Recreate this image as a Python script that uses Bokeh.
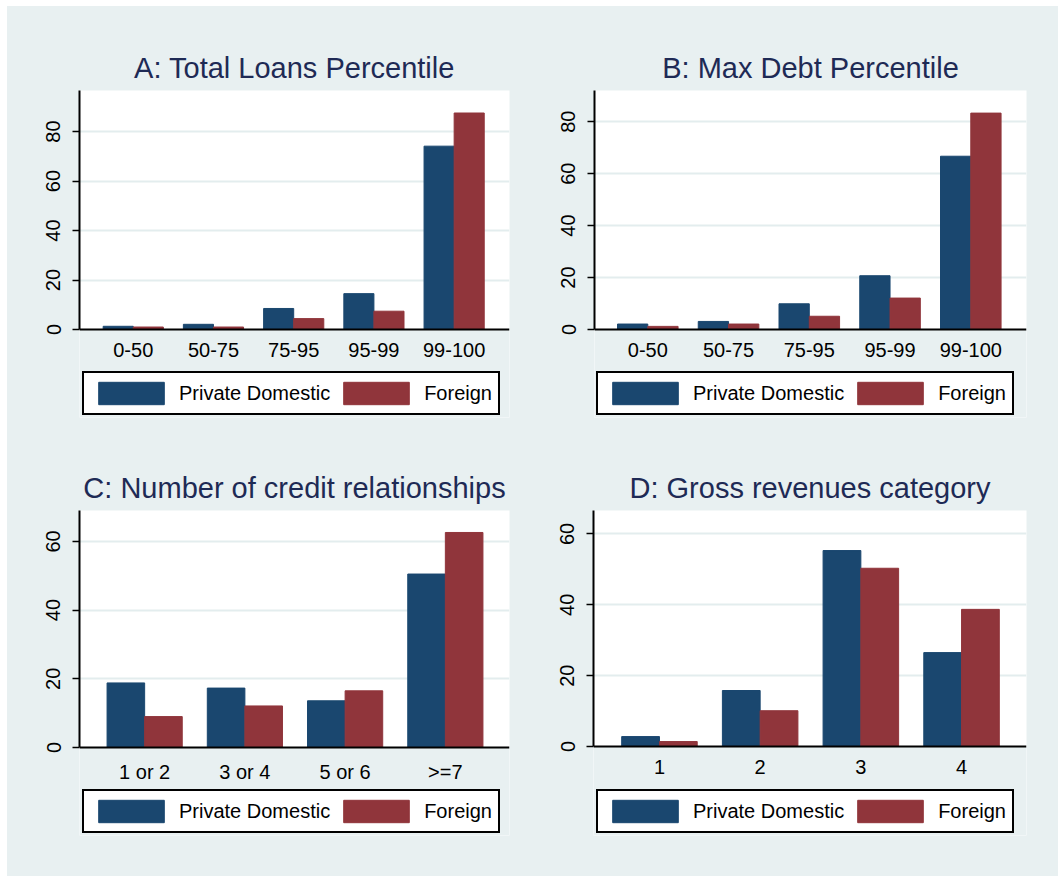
from bokeh.plotting import figure
from bokeh.models import (Range1d, FixedTicker, Legend, LegendItem, ColumnDataSource,
                          BoxAnnotation)
from bokeh.layouts import column, row
from bokeh.embed import file_html
from bokeh.resources import INLINE

# ---------------- data ----------------
series_names = ["Private Domestic", "Foreign"]

cats_a = ["0-50", "50-75", "75-95", "95-99", "99-100"]
priv_a = [1.3, 2.1, 8.5, 14.5, 74.1]
forn_a = [1.0, 1.0, 4.4, 7.4, 87.5]

cats_b = ["0-50", "50-75", "75-95", "95-99", "99-100"]
priv_b = [2.1, 3.1, 9.9, 20.7, 66.7]
forn_b = [1.2, 2.1, 5.1, 12.1, 83.3]

cats_c = ["1 or 2", "3 or 4", "5 or 6", ">=7"]
priv_c = [18.8, 17.3, 13.6, 50.5]
forn_c = [9.0, 12.1, 16.5, 62.6]

cats_d = ["1", "2", "3", "4"]
priv_d = [2.8, 15.8, 55.3, 26.5]
forn_d = [1.4, 10.1, 50.3, 38.7]

titles = ["A: Total Loans Percentile", "B: Max Debt Percentile",
          "C: Number of credit relationships", "D: Gross revenues category"]
yticks_ab = [0, 20, 40, 60, 80]
yticks_cd = [0, 20, 40, 60]

# ---------------- style ----------------
BG = "#E8F0F1"
GRID = "#E3EDEE"
NAVY = "#1A476F"
MAROON = "#90353B"
TITLE_COL = "#1E2A55"
FONT = "Liberation Sans"


def make_panel(title, cats, priv, forn, y_end, yticks, x_lo, x_hi,
               fig_w, fig_h, left, fw, top, zero_px, leg_bottom_px, leg_dx):
    n = len(cats)
    xs = list(range(n))
    frame_bottom = leg_bottom_px + 2
    fh = frame_bottom - top
    above = zero_px - top
    below = frame_bottom - zero_px
    y_lo = -y_end * below / above
    p = figure(frame_width=fw, frame_height=fh, output_backend="svg", toolbar_location=None,
               x_range=Range1d(x_lo, n - 1 + x_hi), y_range=Range1d(y_lo, y_end),
               min_border_left=left, min_border_right=fig_w - left - fw,
               min_border_top=top, min_border_bottom=fig_h - frame_bottom)
    p.background_fill_color = "white"
    p.border_fill_color = BG
    p.outline_line_color = None

    # area below the zero line takes the outer colour
    p.add_layout(BoxAnnotation(top=0, fill_color=BG, fill_alpha=1, line_color=None,
                               level="underlay"))

    w = 0.375
    src = ColumnDataSource(dict(x=xs, priv=priv, forn=forn,
                                xp=[x - w / 2 for x in xs], xf=[x + w / 2 for x in xs]))
    r1 = p.vbar(x="xp", top="priv", width=w, bottom=0, source=src,
                fill_color=NAVY, line_color=NAVY, line_width=1)
    r2 = p.vbar(x="xf", top="forn", width=w, bottom=0, source=src,
                fill_color=MAROON, line_color=MAROON, line_width=1)

    # title
    p.title.text = title
    p.title.align = "center"
    p.title.text_font = FONT
    p.title.text_font_size = "29px"
    p.title.text_font_style = "normal"
    p.title.text_color = TITLE_COL
    p.title.standoff = 13

    # x axis at y = 0
    xa = p.xaxis[0]
    xa.fixed_location = 0
    xa.ticker = FixedTicker(ticks=xs)
    xa.major_label_overrides = {i: c for i, c in enumerate(cats)}
    xa.major_tick_out = 0
    xa.major_tick_in = 0
    xa.minor_tick_out = 0
    xa.minor_tick_in = 0
    xa.axis_line_color = "black"
    xa.axis_line_width = 2
    xa.major_label_text_font = FONT
    xa.major_label_text_font_size = "20px"
    xa.major_label_text_color = "black"
    xa.major_label_standoff = 13

    # y axis
    ya = p.yaxis[0]
    ya.bounds = (0, y_end)
    ya.ticker = FixedTicker(ticks=yticks)
    ya.major_tick_out = 7
    ya.major_tick_in = 0
    ya.minor_tick_out = 0
    ya.minor_tick_in = 0
    ya.major_tick_line_color = "black"
    ya.major_tick_line_width = 1.5
    ya.axis_line_color = "black"
    ya.axis_line_width = 2
    ya.major_label_orientation = "vertical"
    ya.major_label_text_font = FONT
    ya.major_label_text_font_size = "20px"
    ya.major_label_text_color = "black"
    ya.major_label_standoff = 12

    # grid
    p.xgrid.grid_line_color = None
    p.ygrid.ticker = FixedTicker(ticks=[t for t in yticks if t > 0])
    p.ygrid.grid_line_color = GRID
    p.ygrid.grid_line_width = 2

    legend = Legend(items=[LegendItem(label=series_names[0], renderers=[r1]),
                           LegendItem(label=series_names[1], renderers=[r2])],
                    orientation="horizontal", location=(leg_dx, 2))
    legend.label_text_font = FONT
    legend.label_text_font_size = "20px"
    legend.label_text_color = "black"
    legend.glyph_width = 82
    legend.glyph_height = 28
    legend.label_height = 28
    legend.label_standoff = 7
    legend.spacing = 5
    legend.padding = 6
    legend.margin = 0
    legend.border_line_color = "black"
    legend.border_line_alpha = 1
    legend.border_line_width = 2
    legend.background_fill_color = "white"
    legend.background_fill_alpha = 1
    p.add_layout(legend, "center")
    return p


pa = make_panel(titles[0], cats_a, priv_a, forn_a, 96.6, yticks_ab, -0.67, 0.69,
                525, 435, 72, 430, 84, 323, 409, 3)
pb = make_panel(titles[1], cats_b, priv_b, forn_b, 92.0, yticks_ab, -0.66, 0.69,
                526, 435, 62, 432, 84, 323, 409, 2)
pc = make_panel(titles[2], cats_c, priv_c, forn_c, 69.0, yticks_cd, -0.65, 0.64,
                525, 435, 72, 430, 69, 306, 392, 3)
pd_ = make_panel(titles[3], cats_d, priv_d, forn_d, 66.6, yticks_cd, -0.655, 0.645,
                 526, 435, 61, 433, 69, 305, 392, 3)

bg_style = {"background-color": BG}
layout = column(row(pa, pb, spacing=0, styles=bg_style),
                row(pc, pd_, spacing=0, styles=bg_style),
                spacing=0, margin=(6, 0, 0, 7), styles=bg_style)

# page colour: white strip at top and left, chart colour everywhere else
page_css = ("<style>html{background-color:" + BG + ";background-image:"
            "linear-gradient(to right, #ffffff 7px, rgba(0,0,0,0) 7px),"
            "linear-gradient(to bottom, #ffffff 6px, rgba(0,0,0,0) 6px);"
            "background-repeat:no-repeat;background-size:100% 100%;}"
            "body{background:transparent;}</style>")
html = file_html(layout, INLINE)
html = html.replace("</head>", page_css + "</head>", 1)
open("out.html", "w").write(html)
